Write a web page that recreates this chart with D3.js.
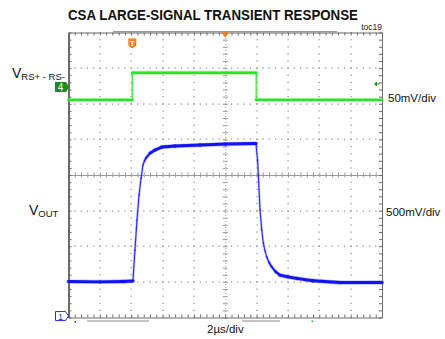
<!DOCTYPE html>
<html>
<head>
<meta charset="utf-8">
<script src="https://cdn.jsdelivr.net/npm/d3@7"></script>
<style>
  html, body { margin: 0; padding: 0; background: #fff; }
  svg { display: block; font-family: "Liberation Sans", Arial, sans-serif; }
</style>
</head>
<body>
<svg id="chart" width="445" height="339"></svg>
<script>
// Time base: 2 µs/div, 10 divisions, trigger reference at the centre
const timeDomain = [-10, 10];          // µs
const timeMajor = d3.range(-10, 10.01, 2);
const divDomain = [-4, 4];             // vertical divisions
const divMajor = d3.range(-4, 4.01, 1);

// Channel 4: sense voltage VRS+ - RS-, 50 mV/div, ground marker 2.47 div above centre
const ch4Scale = 50;
const ch4Offset = 2.47;
const greenTime = [-10, -5.93, -5.93, 1.98, 1.98, 10];
const greenMV   = [-18, -18, 20, 20, -18, -18];

// Channel 1: VOUT, 500 mV/div, ground marker 3.96 div below centre
const ch1Scale = 500;
const ch1Offset = -3.96;
const blueTime = [-10, -8, -6.5, -5.89, -5.76, -5.63, -5.50, -5.37, -5.25, -5.15, -5.06, -4.80, -4.48,
                  -4.03, -3.21, -1.61, 0, 1.96, 2.06, 2.11, 2.22, 2.33, 2.43, 2.54, 2.64, 2.80, 2.96, 3.20, 3.49,
                  4.00, 4.56, 5.60, 7.32, 10];
const blueMV   = [484, 480, 486, 491, 926, 1347, 1698, 1937, 2119, 2180, 2218, 2288, 2330,
                  2372, 2386, 2400, 2414, 2421, 2189, 1979, 1488, 1207, 1025, 915, 832, 750, 692, 625, 575,
                  550, 529, 495, 470, 472];

const triggerTime = -5.93;

const svg = d3.select("#chart");
const X0 = 68.5, X1 = 382, Y0 = 32.5, Y1 = 317.5;

const x = d3.scaleLinear().domain(timeDomain).range([X0, X1]);
const yDiv = d3.scaleLinear().domain(divDomain).range([Y1, Y0]);
const yGreen = d3.scaleLinear()
  .domain([(-4 - ch4Offset) * ch4Scale, (4 - ch4Offset) * ch4Scale]).range([Y1, Y0]);
const yBlue = d3.scaleLinear()
  .domain([(-4 - ch1Offset) * ch1Scale, (4 - ch1Offset) * ch1Scale]).range([Y1, Y0]);

const minorT = d3.range(timeDomain[0], timeDomain[1] + 0.001, 0.4);
const minorD = d3.range(divDomain[0], divDomain[1] + 0.001, 0.2);

// Title
svg.append("text").attr("x", 68).attr("y", 20)
  .attr("font-size", 15).attr("font-weight", "bold").attr("fill", "#111")
  .attr("textLength", 290).attr("lengthAdjust", "spacingAndGlyphs")
  .text("CSA LARGE-SIGNAL TRANSIENT RESPONSE");
svg.append("text").attr("x", 382).attr("y", 30).attr("text-anchor", "end")
  .attr("font-size", 8.5).attr("fill", "#222").text("toc19");

// Dotted graticule
const grid = svg.append("g").attr("fill", "#8a8a8a");
timeMajor.filter(t => t > -10 && t < 10 && t !== 0).forEach(t => {
  minorD.forEach(d => grid.append("rect")
    .attr("x", Math.round(x(t)) - 0.5).attr("y", yDiv(d) - 0.5).attr("width", 1.2).attr("height", 1.2));
});
divMajor.filter(d => d > -4 && d < 4 && d !== 0).forEach(d => {
  minorT.forEach(t => grid.append("rect")
    .attr("x", x(t) - 0.5).attr("y", Math.round(yDiv(d)) - 0.5).attr("width", 1.2).attr("height", 1.2));
});

// Centre cross with minor ticks
function styleAxis(g, color) {
  g.selectAll("path.domain").attr("stroke", color);
  g.selectAll(".tick line").attr("stroke", color);
  g.selectAll("text").remove();
}
const cx = x(0), cy = yDiv(0);
svg.append("g").attr("transform", `translate(0,${cy})`)
  .call(d3.axisBottom(x).tickValues(minorT).tickSize(2.5).tickSizeOuter(0).tickFormat(""))
  .call(g => styleAxis(g, "#9a9a9a"));
svg.append("g").attr("transform", `translate(0,${cy})`)
  .call(d3.axisTop(x).tickValues(minorT).tickSize(2.5).tickSizeOuter(0).tickFormat(""))
  .call(g => styleAxis(g, "#9a9a9a"));
svg.append("g").attr("transform", `translate(${cx},0)`)
  .call(d3.axisLeft(yDiv).tickValues(minorD).tickSize(2.5).tickSizeOuter(0).tickFormat(""))
  .call(g => { styleAxis(g, "#9a9a9a"); g.select("path.domain").attr("stroke-dasharray", "1,2"); });
svg.append("g").attr("transform", `translate(${cx},0)`)
  .call(d3.axisRight(yDiv).tickValues(minorD).tickSize(2.5).tickSizeOuter(0).tickFormat(""))
  .call(g => { styleAxis(g, "#9a9a9a"); g.select("path.domain").remove(); });

// Frame with inward ticks
svg.append("g").attr("transform", `translate(0,${Y0})`)
  .call(d3.axisBottom(x).tickValues(minorT).tickSize(3).tickSizeOuter(0).tickFormat(""))
  .call(g => styleAxis(g, "#6a6a6a"));
svg.append("g").attr("transform", `translate(0,${Y1})`)
  .call(d3.axisTop(x).tickValues(minorT).tickSize(3).tickSizeOuter(0).tickFormat(""))
  .call(g => styleAxis(g, "#6a6a6a"));
svg.append("g").attr("transform", `translate(${X0},0)`)
  .call(d3.axisRight(yDiv).tickValues(minorD).tickSize(3).tickSizeOuter(0).tickFormat(""))
  .call(g => { styleAxis(g, "#6a6a6a"); g.select("path.domain").attr("stroke-width", 2); });
svg.append("g").attr("transform", `translate(${X1},0)`)
  .call(d3.axisLeft(yDiv).tickValues(minorD).tickSize(3).tickSizeOuter(0).tickFormat(""))
  .call(g => styleAxis(g, "#6a6a6a"));

// Record-position bars on the frame
svg.append("line").attr("x1", 113).attr("x2", 337).attr("y1", Y0 - 0.8).attr("y2", Y0 - 0.8)
  .attr("stroke", "#9a9a9a").attr("stroke-width", 1.6);
svg.append("line").attr("x1", 87).attr("x2", 149).attr("y1", 321).attr("y2", 321)
  .attr("stroke", "#b0b0b0").attr("stroke-width", 1.5);
svg.append("line").attr("x1", 242).attr("x2", 280).attr("y1", 321).attr("y2", 321)
  .attr("stroke", "#b0b0b0").attr("stroke-width", 1.5);
svg.append("rect").attr("x", 311.5).attr("y", 320.5).attr("width", 1.5).attr("height", 1.5).attr("fill", "#3a3");
svg.append("rect").attr("x", 74.5).attr("y", 321).attr("width", 1.5).attr("height", 1.5).attr("fill", "#33c");

// Traces: the noise band has a fixed vertical height, so its visible thickness
// shrinks on steep edges (band / sqrt(1 + slope²)).
function drawTrace(times, values, ys, band, core, halo) {
  const g = svg.append("g").attr("stroke-linecap", "round");
  const pts = times.map((t, i) => [x(t), ys(values[i])]);
  for (let i = 0; i < pts.length - 1; i++) {
    const [xa, ya] = pts[i], [xb, yb] = pts[i + 1];
    const dx = Math.max(xb - xa, 1e-6);
    const s = (yb - ya) / dx;
    const w = Math.max(1, band / Math.sqrt(1 + s * s));
    g.append("line").attr("x1", xa).attr("y1", ya).attr("x2", xb).attr("y2", yb)
      .attr("stroke", halo).attr("stroke-opacity", 0.45).attr("stroke-width", w + 1.4);
  }
  for (let i = 0; i < pts.length - 1; i++) {
    const [xa, ya] = pts[i], [xb, yb] = pts[i + 1];
    const dx = Math.max(xb - xa, 1e-6);
    const s = (yb - ya) / dx;
    const w = Math.max(0.9, band / Math.sqrt(1 + s * s));
    g.append("line").attr("x1", xa).attr("y1", ya).attr("x2", xb).attr("y2", yb)
      .attr("stroke", core).attr("stroke-width", w);
  }
}
drawTrace(greenTime, greenMV, yGreen, 2.4, "#22e622", "#5cf55c");
drawTrace(blueTime, blueMV, yBlue, 3.0, "#1212f2", "#6a6aff");

// Trigger markers
const orange = "#f57c1f";
const tx = x(triggerTime);
svg.append("path")
  .attr("d", `M${tx - 4},38.5 h8 v7 l-4,3 l-4,-3 Z`).attr("fill", orange);
svg.append("text").attr("x", tx).attr("y", 45.5).attr("text-anchor", "middle")
  .attr("font-size", 8).attr("font-weight", "bold").attr("fill", "#fff").text("T");
svg.append("path")
  .attr("d", `M${cx - 4},${Y0} h8 l-4,5 Z`).attr("fill", orange);

// Channel ground markers
const g4y = yGreen(0);
svg.append("path")
  .attr("d", `M55,${g4y - 5} h11 l3,5 l-3,5 h-11 Z`).attr("fill", "#1a8f1a");
svg.append("text").attr("x", 60.5).attr("y", g4y + 4).attr("text-anchor", "middle")
  .attr("font-size", 10).attr("fill", "#fff").text("4");
svg.append("path")
  .attr("d", `M374,${g4y - 3} l3,-2.5 v5 Z`).attr("fill", "#1a9a1a");
svg.append("line").attr("x1", 376).attr("x2", 380).attr("y1", g4y - 3).attr("y2", g4y - 3)
  .attr("stroke", "#1a9a1a").attr("stroke-width", 1);

const g1y = yBlue(0);
svg.append("path")
  .attr("d", `M55.5,${g1y - 4.5} h10 l3,4.5 l-3,4.5 h-10 Z`).attr("fill", "#fff")
  .attr("stroke", "#2a2ad0").attr("stroke-width", 1);
svg.append("text").attr("x", 60.5).attr("y", g1y + 3.5).attr("text-anchor", "middle")
  .attr("font-size", 9).attr("fill", "#2a2ad0").text("1");

// Channel labels
const vrs = svg.append("text").attr("x", 12).attr("y", 78).attr("fill", "#111").attr("font-size", 14);
vrs.append("tspan").text("V");
vrs.append("tspan").attr("font-size", 9.5).attr("dy", 2).text("RS+ - RS-");

const vout = svg.append("text").attr("x", 29).attr("y", 215).attr("fill", "#111").attr("font-size", 14);
vout.append("tspan").text("V");
vout.append("tspan").attr("font-size", 9.5).attr("dy", 2).text("OUT");

svg.append("text").attr("x", 388).attr("y", 101.5).attr("font-size", 11.5).attr("fill", "#111").text("50mV/div");
svg.append("text").attr("x", 386).attr("y", 215.5).attr("font-size", 11.5).attr("fill", "#111").text("500mV/div");
svg.append("text").attr("x", 207).attr("y", 333).attr("font-size", 11.5).attr("fill", "#111").text("2µs/div");
</script>
</body>
</html>
